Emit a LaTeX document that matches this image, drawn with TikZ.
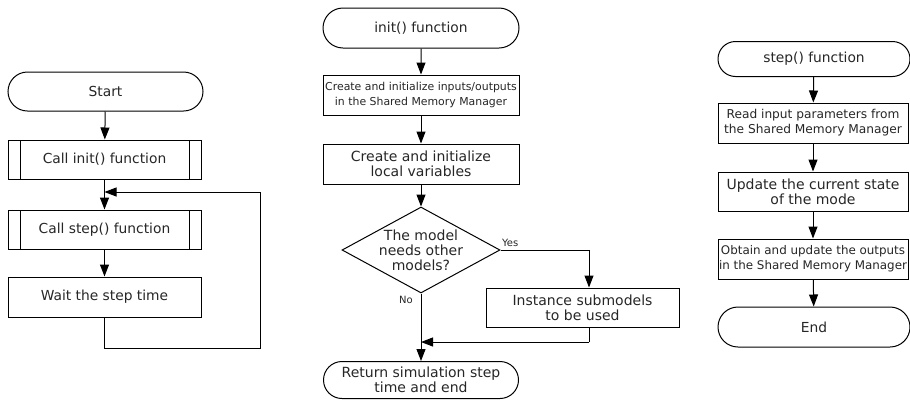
\documentclass[tikz,border=0pt]{standalone}
\usepackage{fontspec}
\setmainfont{DejaVu Sans}
\usetikzlibrary{shapes.misc,shapes.geometric,arrows.meta}
\begin{document}
\begin{tikzpicture}[x=1pt,y=-1pt,
  every node/.style={align=center,inner sep=0pt,text=black!85},
  box/.style={draw,line width=1pt,rectangle,minimum width=#1,minimum height=39pt},
  box/.default=193pt,
  term/.style={draw,line width=1pt,rounded rectangle,minimum width=#1,minimum height=39pt},
  term/.default=195pt,
  subr/.style={box,path picture={
      \draw[line width=1pt] ([xshift=12pt]path picture bounding box.north west) -- ([xshift=12pt]path picture bounding box.south west);
      \draw[line width=1pt] ([xshift=-12pt]path picture bounding box.north east) -- ([xshift=-12pt]path picture bounding box.south east);}},
  decision/.style={draw,line width=1pt,diamond,minimum width=158pt,minimum height=86pt},
  flow/.style={line width=1pt,-{Triangle[length=12pt,width=9pt]}},
  link/.style={line width=1pt},
  fbig/.style={font=\fontsize{14}{15}\selectfont},
  fmid/.style={font=\fontsize{13.8}{15}\selectfont},
  fread/.style={font=\fontsize{12.2}{15}\selectfont},
  fobt/.style={font=\fontsize{11.9}{15}\selectfont},
  fsmall/.style={font=\fontsize{10.9}{15}\selectfont},
  tag/.style={font=\fontsize{10}{12}\selectfont}]
\useasboundingbox (0,0) rectangle (910,400);

% main program
\node[term,fmid] (start) at (105.5,91.5) {Start};
\node[subr,fmid] (callinit) at (104.5,159.5) {Call init() function};
\node[subr,fmid] (callstep) at (104.5,229.5) {Call step() function};
\node[box,fmid,minimum height=40pt] (wait) at (104.5,297) {Wait the step time};
\coordinate (loopin) at (104.5,192);
\coordinate (loopa) at (104.5,348);
\coordinate (loopb) at (260,348);
\coordinate (loopc) at (260,192);
\draw[flow] (start) -- (callinit);
\draw[flow] (callinit) -- (callstep);
\draw[flow] (callstep) -- (wait);
\draw[link] (wait.south) -- (loopa) -- (loopb) -- (loopc);
\draw[flow] (loopc) -- (loopin);

% init() function
\node[term,fmid,minimum height=40pt,minimum width=196pt] (initfn) at (421,28) {init() function};
\node[box=196pt,fsmall,minimum height=40pt] (io) at (421,95) {Create and initialize inputs/outputs\\in the Shared Memory Manager};
\node[box=196pt,fbig,minimum height=40pt] (locals) at (421,164) {Create and initialize\\local variables};
\node[decision] (dia) at (421,250) {};
\node[fbig] (diatext) at (dia.center) {The model\\needs other\\models?};
\node[box,fbig] (inst) at (582.5,307.5) {Instance submodels\\to be used};
\node[term,fbig,minimum height=37pt] (ret) at (421,380) {Return simulation step\\time and end};
\coordinate (yesturn) at (589,250);
\coordinate (back) at (589,342);
\coordinate (join) at (421,342);
\draw[flow] (initfn) -- (io);
\draw[flow] (io) -- (locals);
\draw[flow] (locals) -- (dia);
\draw[link] (dia.east) -- (yesturn);
\draw[flow] (yesturn) -- (yesturn |- inst.north);
\draw[link] (back |- inst.south) -- (back);
\draw[flow] (back) -- (join);
\draw[flow] (dia.south) -- (ret.north);
\node[tag,anchor=south west] (yes) at (502,247) {Yes};
\node[tag] (no) at (406,300) {No};

% step() function
\node[term=192pt,fmid,minimum height=35pt] (stepfn) at (814,59) {step() function};
\node[box=190pt,fread,minimum height=40pt] (read) at (813,123) {Read input parameters from\\the Shared Memory Manager};
\node[box=190pt,fbig] (upd) at (813,191.5) {Update the current state\\of the mode};
\node[box=190pt,fobt,minimum height=40pt] (obt) at (813,259) {Obtain and update the outputs\\in the Shared Memory Manager};
\node[term=192pt,fmid,minimum height=40pt] (end) at (814,327) {End};
\draw[flow] (stepfn) -- (read);
\draw[flow] (read) -- (upd);
\draw[flow] (upd) -- (obt);
\draw[flow] (obt) -- (end);
\end{tikzpicture}
\end{document}
